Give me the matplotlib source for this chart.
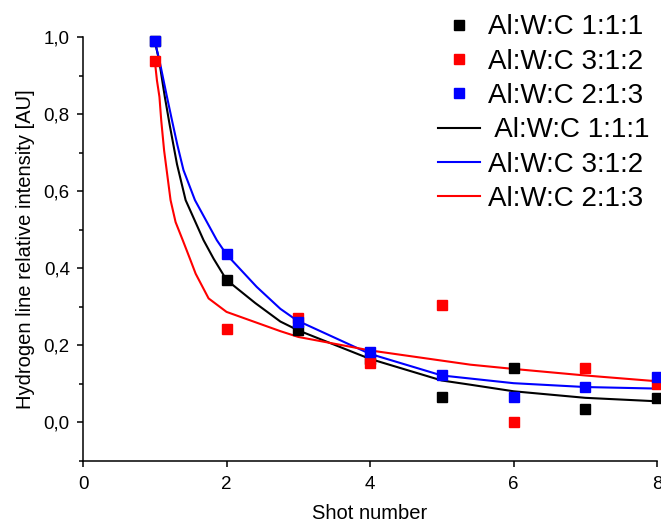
import numpy as np
import matplotlib.pyplot as plt
from matplotlib.ticker import MultipleLocator

plt.rcParams['font.family'] = ['Liberation Sans', 'DejaVu Sans']

# measured points
shots = [1, 2, 3, 4, 5, 6, 7, 8]
y_111 = [0.99, 0.37, 0.239, 0.165, 0.066, 0.141, 0.035, 0.063]
y_312 = [0.938, 0.243, 0.272, 0.155, 0.306, 0.0, 0.141, 0.099]
y_213 = [0.99, 0.436, 0.26, 0.183, 0.124, 0.066, 0.092, 0.118]

# fitted curves
fx_black = [1, 1.06, 1.14, 1.21, 1.31, 1.43, 1.68, 1.82, 2, 2.4, 2.75,
            3.0, 4.0, 5.0, 5.4, 6, 7, 8]
fy_black = [0.99, 0.94, 0.845, 0.77, 0.67, 0.577, 0.473, 0.425, 0.37,
            0.31, 0.262, 0.239, 0.165, 0.109, 0.098, 0.081, 0.064, 0.055]
fx_blue = [1, 1.07, 1.17, 1.24, 1.315, 1.40, 1.56, 1.865, 2, 2.42,
           2.75, 2.98, 4, 5, 5.4, 6, 7, 8]
fy_blue = [0.99, 0.935, 0.845, 0.784, 0.72, 0.655, 0.577, 0.473, 0.436,
           0.352, 0.295, 0.265, 0.178, 0.122, 0.114, 0.102, 0.092, 0.088]
fx_red = [1, 1.03, 1.065, 1.09, 1.13, 1.22, 1.29, 1.39, 1.49, 1.57,
          1.75, 2.0, 2.45, 2.75, 3.0, 4, 5.4, 6, 7, 8]
fy_red = [0.94, 0.888, 0.845, 0.784, 0.706, 0.577, 0.52, 0.473, 0.425,
          0.386, 0.322, 0.287, 0.257, 0.237, 0.222, 0.187, 0.150, 0.139,
          0.122, 0.107]

yticks = [0.0, 0.2, 0.4, 0.6, 0.8, 1.0]
ytick_labels = ['0,0', '0,2', '0,4', '0,6', '0,8', '1,0']
xticks = [0, 2, 4, 6, 8]

fig = plt.figure(figsize=(6.61, 5.23), dpi=100)
ax = fig.add_axes([0.1256, 0.1185, 0.8684, 0.8105])

ms = dict(marker='s', linestyle='none', markersize=7, clip_on=False, zorder=3)
p1, = ax.plot(shots, y_111, color='black', label='Al:W:C 1:1:1', **ms)
p2, = ax.plot(shots, y_312, color='red', label='Al:W:C 3:1:2', **ms)
p3, = ax.plot(shots, y_213, color='blue', label='Al:W:C 2:1:3', **ms)

l1, = ax.plot(fx_black, fy_black, color='black', lw=1.5, label=' Al:W:C 1:1:1')
l2, = ax.plot(fx_blue, fy_blue, color='blue', lw=1.5, label='Al:W:C 3:1:2')
l3, = ax.plot(fx_red, fy_red, color='red', lw=1.5, label='Al:W:C 2:1:3')

ax.set_xlim(0, 8)
ax.set_ylim(-0.1, 1.0)
ax.set_xticks(xticks)
ax.set_xticklabels([str(v) for v in xticks])
ax.set_yticks(yticks)
ax.set_yticklabels(ytick_labels)
ax.yaxis.set_minor_locator(MultipleLocator(0.1))

for s in ['top', 'right']:
    ax.spines[s].set_visible(False)
for s in ['left', 'bottom']:
    ax.spines[s].set_linewidth(1.1)
ax.tick_params(which='major', length=4.5, width=1.1, labelsize=13.5)
ax.tick_params(which='minor', length=3, width=1.1)
ax.tick_params(axis='y', which='major', pad=5)
ax.tick_params(axis='x', which='major', pad=6)

ax.set_xlabel('Shot number', fontsize=14.5, labelpad=8)
ax.set_ylabel('Hydrogen line relative intensity [AU]', fontsize=14.5, labelpad=6)

leg = fig.legend(handles=[p1, p2, p3, l1, l2, l3], loc='upper right',
                 bbox_to_anchor=(1.0, 0.994), frameon=False, fontsize=20,
                 handlelength=1.5, handletextpad=0.3, labelspacing=0.3,
                 borderaxespad=0)

fig.savefig('out.png', dpi=100)
